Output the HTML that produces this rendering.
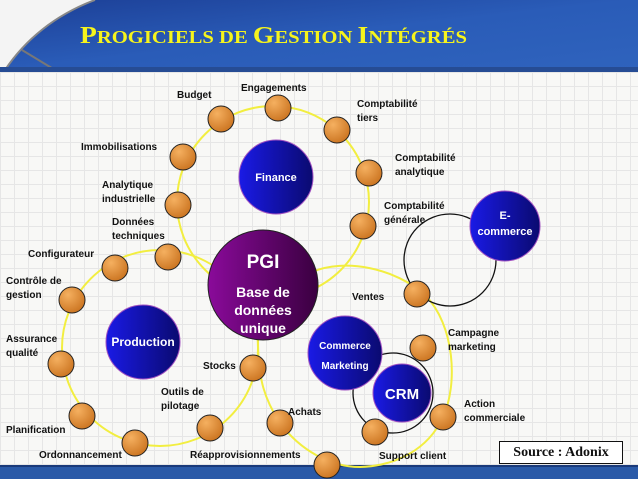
<!DOCTYPE html>
<html><head><meta charset="utf-8"><style>
html,body{margin:0;padding:0;}
body{width:638px;height:479px;overflow:hidden;position:relative;font-family:"Liberation Sans",Arial,sans-serif;
background-color:#f8f8f6;
background-image:linear-gradient(#e6e6e6 1px,transparent 1px),linear-gradient(90deg,#e6e6e6 1px,transparent 1px);
background-size:14px 14px;background-position:0 2px;}
.l{position:absolute;font-size:10px;font-weight:bold;color:#111;line-height:14px;white-space:nowrap;}
</style></head><body>
<svg width="638" height="479" style="position:absolute;left:0;top:0">
<defs>
<linearGradient id="hdr" x1="0" y1="0" x2="1" y2="1"><stop offset="0" stop-color="#1c3f96"/><stop offset="0.5" stop-color="#2a5cb8"/><stop offset="1" stop-color="#2f63bd"/></linearGradient>
<radialGradient id="ball" cx="0.35" cy="0.3" r="0.8"><stop offset="0" stop-color="#f5b060"/><stop offset="1" stop-color="#c8701c"/></radialGradient>
<linearGradient id="blue" x1="0" y1="0" x2="1" y2="0"><stop offset="0" stop-color="#1a1ae6"/><stop offset="1" stop-color="#0a0a70"/></linearGradient>
<linearGradient id="purp" x1="0" y1="0" x2="1" y2="0"><stop offset="0" stop-color="#8a0a9a"/><stop offset="1" stop-color="#3a0040"/></linearGradient>
</defs>
<rect x="0" y="0" width="638" height="70" fill="url(#hdr)"/>
<path d="M0,0 L95,0 C55,15 25,40 5,70 L0,70 Z" fill="#f4f4f4"/>
<path d="M5,70 C25,40 55,15 95,0" fill="none" stroke="#888" stroke-width="2"/>
<path d="M22,50 L55,70" stroke="#777" stroke-width="2"/>
<rect x="0" y="67" width="638" height="5" fill="#264c94"/>
<rect x="0" y="465" width="638" height="14" fill="#2a5aa8"/>
<rect x="0" y="465" width="638" height="2" fill="#1a3a7a"/>
<text x="80" y="43" font-family="Liberation Serif,serif" font-weight="bold" fill="#f6f41c" font-size="24" textLength="387" lengthAdjust="spacingAndGlyphs">P<tspan font-size="18">ROGICIELS DE </tspan>G<tspan font-size="18">ESTION </tspan>I<tspan font-size="18">NTÉGRÉS</tspan></text>
<g fill="none" stroke="#f2ee40" stroke-width="2">
<circle cx="273" cy="202" r="96"/>
<circle cx="160" cy="348" r="98"/>
<path d="M312,272 C345,258 395,268 425,295 C455,325 458,385 443,417 C428,450 395,466 360,467 C330,467 300,450 280,423 C265,400 258,380 258,340"/>
</g>
<g fill="none" stroke="#111" stroke-width="1.3">
<circle cx="450" cy="260" r="46"/>
<circle cx="393" cy="393" r="40"/>
</g>
<circle cx="263" cy="285" r="55" fill="url(#purp)" stroke="#222"/>
<circle cx="276" cy="177" r="37" fill="url(#blue)" stroke="#a050c0"/>
<circle cx="143" cy="342" r="37" fill="url(#blue)" stroke="#a050c0"/>
<circle cx="505" cy="226" r="35" fill="url(#blue)" stroke="#a050c0"/>
<circle cx="345" cy="353" r="37" fill="url(#blue)" stroke="#a050c0"/>
<circle cx="402" cy="393" r="29" fill="url(#blue)" stroke="#a050c0"/>
<g fill="url(#ball)" stroke="#222" stroke-width="1">
<circle cx="221" cy="119" r="13"/><circle cx="278" cy="108" r="13"/><circle cx="337" cy="130" r="13"/>
<circle cx="369" cy="173" r="13"/><circle cx="363" cy="226" r="13"/><circle cx="183" cy="157" r="13"/>
<circle cx="178" cy="205" r="13"/><circle cx="168" cy="257" r="13"/><circle cx="115" cy="268" r="13"/>
<circle cx="72" cy="300" r="13"/><circle cx="61" cy="364" r="13"/><circle cx="82" cy="416" r="13"/>
<circle cx="135" cy="443" r="13"/><circle cx="210" cy="428" r="13"/><circle cx="253" cy="368" r="13"/>
<circle cx="280" cy="423" r="13"/><circle cx="327" cy="465" r="13"/><circle cx="375" cy="432" r="13"/>
<circle cx="443" cy="417" r="13"/><circle cx="423" cy="348" r="13"/><circle cx="417" cy="294" r="13"/>
</g>
<g font-family="Liberation Sans,Arial,sans-serif" font-weight="bold" fill="#fff" text-anchor="middle">
<text x="263" y="268" font-size="19">PGI</text>
<text x="263" y="297" font-size="14">Base de</text>
<text x="263" y="315" font-size="14">données</text>
<text x="263" y="333" font-size="14">unique</text>
<text x="276" y="181" font-size="11">Finance</text>
<text x="143" y="346" font-size="12">Production</text>
<text x="505" y="219" font-size="11">E-</text>
<text x="505" y="235" font-size="11">commerce</text>
<text x="345" y="349" font-size="10">Commerce</text>
<text x="345" y="369" font-size="10">Marketing</text>
<text x="402" y="399" font-size="15">CRM</text>
</g>
</svg>
<div class="l" style="left:177px;top:89px">Budget</div>
<div class="l" style="left:241px;top:82px">Engagements</div>
<div class="l" style="left:357px;top:98px">Comptabilité<br>tiers</div>
<div class="l" style="left:81px;top:141px">Immobilisations</div>
<div class="l" style="left:395px;top:152px">Comptabilité<br>analytique</div>
<div class="l" style="left:102px;top:179px">Analytique<br>industrielle</div>
<div class="l" style="left:384px;top:200px">Comptabilité<br>générale</div>
<div class="l" style="left:112px;top:216px">Données<br>techniques</div>
<div class="l" style="left:28px;top:248px">Configurateur</div>
<div class="l" style="left:6px;top:275px">Contrôle de<br>gestion</div>
<div class="l" style="left:6px;top:333px">Assurance<br>qualité</div>
<div class="l" style="left:203px;top:360px">Stocks</div>
<div class="l" style="left:161px;top:386px">Outils de<br>pilotage</div>
<div class="l" style="left:6px;top:424px">Planification</div>
<div class="l" style="left:39px;top:449px">Ordonnancement</div>
<div class="l" style="left:190px;top:449px">Réapprovisionnements</div>
<div class="l" style="left:288px;top:406px">Achats</div>
<div class="l" style="left:352px;top:291px">Ventes</div>
<div class="l" style="left:448px;top:327px">Campagne<br>marketing</div>
<div class="l" style="left:464px;top:398px">Action<br>commerciale</div>
<div class="l" style="left:379px;top:450px">Support client</div>
<div style="position:absolute;left:499px;top:441px;width:122px;height:21px;border:1.5px solid #111;background:#fff;font-family:'Liberation Serif',serif;font-weight:bold;font-size:14px;line-height:21px;text-align:center;color:#111">Source : Adonix</div>
</body></html>
